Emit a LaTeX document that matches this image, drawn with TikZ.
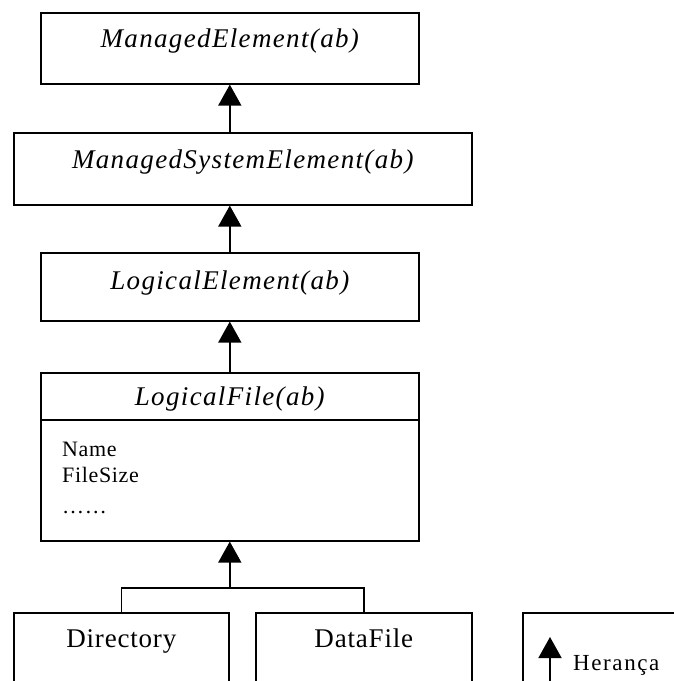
\documentclass[tikz,border=0pt]{standalone}
\usepackage{fontspec}
\setmainfont{Liberation Serif}
\newfontfamily\hdrfont[LetterSpace=5]{Liberation Serif}
\newfontfamily\attrfont[LetterSpace=3]{Liberation Serif}
\newfontfamily\leaffont[LetterSpace=3]{Liberation Serif}
\newfontfamily\legfont[LetterSpace=7]{Liberation Serif}
\usetikzlibrary{arrows.meta,calc}
\begin{document}
\begin{tikzpicture}[x=1pt,y=-1pt,
  box/.style={draw,line width=1.6pt,rectangle,inner sep=0pt,anchor=north west},
  hdr/.style={anchor=base,inner sep=0pt,font=\hdrfont\itshape\fontsize{27}{31}\selectfont},
  attr/.style={anchor=base west,inner sep=0pt,font=\attrfont\fontsize{22}{26}\selectfont},
  leaf/.style={anchor=base,inner sep=0pt,font=\leaffont\fontsize{27}{31}\selectfont},
  legtext/.style={anchor=base west,inner sep=0pt,font=\legfont\fontsize{23}{27}\selectfont},
  conn/.style={line width=1.6pt},
  inh/.style={conn,-{Triangle[width=23pt,length=21pt]}}]
\useasboundingbox (0,0) rectangle (674,681);
\clip (0,0) rectangle (674,681);
% boxes
\node[box,minimum width=378pt,minimum height=71pt] (me) at (40,12) {};
\node[box,minimum width=458pt,minimum height=72pt] (ms) at (13,132) {};
\node[box,minimum width=378pt,minimum height=68pt] (le) at (40,252) {};
\node[box,minimum width=378pt,minimum height=168pt] (lf) at (40,372) {};
\node[box,minimum width=215pt,minimum height=120pt] (dir) at (13,612) {};
\node[box,minimum width=216pt,minimum height=120pt] (df) at (255,612) {};
\node[box,minimum width=200pt,minimum height=120pt] (leg) at (522,612) {};
% header separator of LogicalFile
\coordinate (lfsepL) at ($(lf.north west)+(0,48)$);
\coordinate (lfsepR) at ($(lf.north east)+(0,48)$);
\draw[conn] (lfsepL) -- (lfsepR);
% texts
\node[hdr] (meT) at ($(me.north)+(0,35)$) {ManagedElement(ab)};
\node[hdr] (msT) at ($(ms.north)+(0,36)$) {ManagedSystemElement(ab)};
\node[hdr] (leT) at ($(le.north)+(0,37)$) {LogicalElement(ab)};
\node[hdr] (lfT) at ($(lf.north)+(0,33)$) {LogicalFile(ab)};
\node[attr] (a1) at (62,456) {Name};
\node[attr] (a2) at (62,482) {FileSize};
\node[attr] (a3) at (62,513) {……};
\node[leaf] (dirT) at ($(dir.north)+(0,35)$) {Directory};
\node[leaf] (dfT) at ($(df.north)+(0,35)$) {DataFile};
% inheritance connectors
\draw[inh] (me.south |- ms.north) -- (me.south);
\draw[inh] (le.north) -- (me.south |- ms.south);
\draw[inh] (lf.north) -- (le.south);
\coordinate (j) at (lf.south |- 0,588);
\draw[inh] (j) -- (lf.south);
\draw[conn] (dir.north) |- (j) -| (df.north);
% legend
\coordinate (lgA) at (550,700);
\coordinate (lgB) at (550,637);
\draw[inh] (lgA) -- (lgB);
\node[legtext] (lgT) at (573,670) {Herança};
\end{tikzpicture}
\end{document}
